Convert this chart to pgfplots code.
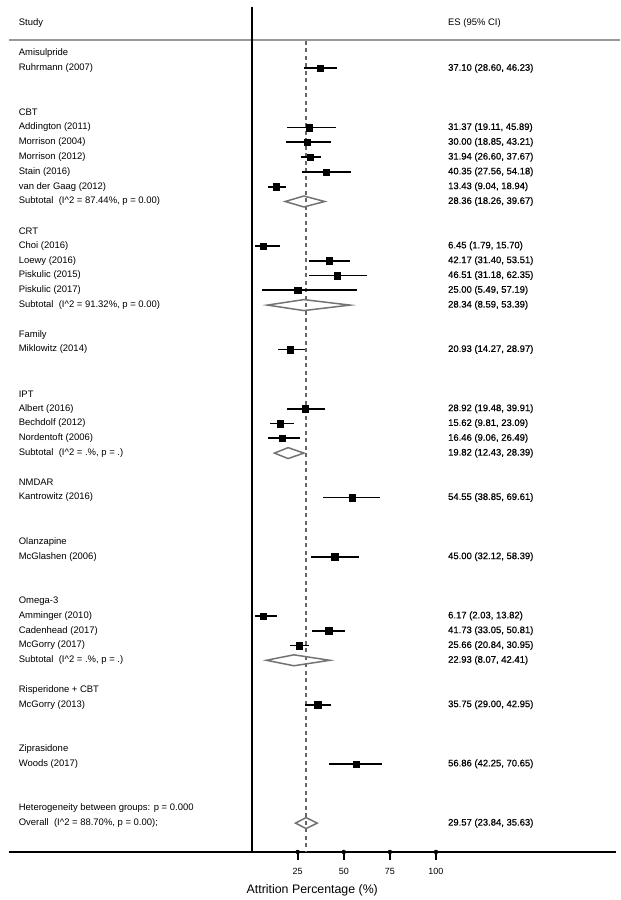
\documentclass[border=0pt]{standalone}
\usepackage{fontspec}
\setmainfont{Liberation Sans}
\newfontfamily\valfont[FakeBold=0.6]{Liberation Sans}
\usepackage{pgfplots}
\usepackage{pgfplotstable}
\pgfplotsset{compat=1.18}

% row = line of the forest plot counted from "Amisulpride" (0)
\pgfplotstableread{
row es lo hi
1 37.10 28.60 46.23
5 31.37 19.11 45.89
6 30.00 18.85 43.21
7 31.94 26.60 37.67
8 40.35 27.56 54.18
9 13.43 9.04 18.94
13 6.45 1.79 15.70
14 42.17 31.40 53.51
15 46.51 31.18 62.35
16 25.00 5.49 57.19
20 20.93 14.27 28.97
24 28.92 19.48 39.91
25 15.62 9.81 23.09
26 16.46 9.06 26.49
30 54.55 38.85 69.61
34 45.00 32.12 58.39
38 6.17 2.03 13.82
39 41.73 33.05 50.81
40 25.66 20.84 30.95
44 35.75 29.00 42.95
48 56.86 42.25 70.65
}\studies

\newcommand{\lab}[3]{%
  \node[lbl] at (axis cs:-126.3,-#1) {#2};
  \node[lbl] at (axis cs:106.5,-#1) {\valfont #3};}

\begin{document}
\begin{tikzpicture}[lbl/.style={anchor=west, inner sep=0pt, font=\fontsize{9.5}{11}\selectfont}]
\begin{axis}[
    width=607.3bp, height=852bp, scale only axis,
    xmin=-131.7, xmax=197.6, ymin=-53.95, ymax=3.615,
    axis y line=none, axis x line*=bottom,
    x axis line style={-, line width=1.8bp},
    xtick={25,50,75,100}, ytick=\empty, major tick length=0pt,
    /pgf/number format/assume math mode=true,
    xticklabel style={font=\fontsize{9}{10}\selectfont, yshift=-13bp},
    xlabel={Attrition Percentage (\%)},
    xlabel style={font=\fontsize{12.4}{14}\selectfont, yshift=-3bp},
    clip=false,
]
\path (axis cs:-136.4,3.615) rectangle (axis cs:199.8,-57.196);
% reference lines
\addplot[black!40, line width=1.6bp] coordinates {(-131.7,0.892) (199.8,0.892)};
\addplot[black, line width=2bp] coordinates {(0,3.14) (0,-53.95)};
\addplot[black!60, line width=1.2bp, dash pattern=on 4bp off 3.5bp] coordinates {(29.57,0.85) (29.57,-53.95)};
% tick marks below the axis line
\addplot[only marks, mark=none, error bars/.cd, y dir=minus, y fixed=0.52, error mark=none,
    error bar style={black, line width=1.8bp}]
  coordinates {(25,-53.95) (50,-53.95) (75,-53.95) (100,-53.95)};
% studies
\addplot[black, only marks, mark=square*, mark size=3.2bp, mark options={line width=0.3bp},
    error bars/.cd, x dir=both, x explicit, error mark=none,
    error bar style={line width=1.8bp, black}]
  table[x=es, y expr=-\thisrow{row},
        x error plus expr=\thisrow{hi}-\thisrow{es},
        x error minus expr=\thisrow{es}-\thisrow{lo}] {\studies};
% pooled estimates
\pgfplotsset{diam/.style={black!55, line width=1.5bp, line join=miter}}
\addplot[diam] coordinates {(28.36,-9.63) (39.67,-10) (28.36,-10.37) (18.26,-10) (28.36,-9.63)};
\addplot[diam] coordinates {(28.34,-16.63) (53.39,-17) (28.34,-17.37) (8.59,-17) (28.34,-16.63)};
\addplot[diam] coordinates {(19.82,-26.63) (28.39,-27) (19.82,-27.37) (12.43,-27) (19.82,-26.63)};
\addplot[diam] coordinates {(22.93,-40.63) (42.41,-41) (22.93,-41.37) (8.07,-41) (22.93,-40.63)};
\addplot[diam] coordinates {(29.57,-51.63) (35.63,-52) (29.57,-52.37) (23.84,-52) (29.57,-51.63)};
% text columns
\node[lbl] at (axis cs:-126.3,2.08) {Study};
\node[lbl] at (axis cs:106.5,2.08) {ES (95\% CI)};
\lab{0}{Amisulpride}{}
\lab{1}{Ruhrmann (2007)}{37.10 (28.60, 46.23)}
\lab{4}{CBT}{}
\lab{5}{Addington (2011)}{31.37 (19.11, 45.89)}
\lab{6}{Morrison (2004)}{30.00 (18.85, 43.21)}
\lab{7}{Morrison (2012)}{31.94 (26.60, 37.67)}
\lab{8}{Stain (2016)}{40.35 (27.56, 54.18)}
\lab{9}{van der Gaag (2012)}{13.43 (9.04, 18.94)}
\lab{10}{Subtotal\ \ (I\textasciicircum2 = 87.44\%, p = 0.00)}{28.36 (18.26, 39.67)}
\lab{12}{CRT}{}
\lab{13}{Choi (2016)}{6.45 (1.79, 15.70)}
\lab{14}{Loewy (2016)}{42.17 (31.40, 53.51)}
\lab{15}{Piskulic (2015)}{46.51 (31.18, 62.35)}
\lab{16}{Piskulic (2017)}{25.00 (5.49, 57.19)}
\lab{17}{Subtotal\ \ (I\textasciicircum2 = 91.32\%, p = 0.00)}{28.34 (8.59, 53.39)}
\lab{19}{Family}{}
\lab{20}{Miklowitz (2014)}{20.93 (14.27, 28.97)}
\lab{23}{IPT}{}
\lab{24}{Albert (2016)}{28.92 (19.48, 39.91)}
\lab{25}{Bechdolf (2012)}{15.62 (9.81, 23.09)}
\lab{26}{Nordentoft (2006)}{16.46 (9.06, 26.49)}
\lab{27}{Subtotal\ \ (I\textasciicircum2 = .\%, p = .)}{19.82 (12.43, 28.39)}
\lab{29}{NMDAR}{}
\lab{30}{Kantrowitz (2016)}{54.55 (38.85, 69.61)}
\lab{33}{Olanzapine}{}
\lab{34}{McGlashen (2006)}{45.00 (32.12, 58.39)}
\lab{37}{Omega-3}{}
\lab{38}{Amminger (2010)}{6.17 (2.03, 13.82)}
\lab{39}{Cadenhead (2017)}{41.73 (33.05, 50.81)}
\lab{40}{McGorry (2017)}{25.66 (20.84, 30.95)}
\lab{41}{Subtotal\ \ (I\textasciicircum2 = .\%, p = .)}{22.93 (8.07, 42.41)}
\lab{43}{Risperidone + CBT}{}
\lab{44}{McGorry (2013)}{35.75 (29.00, 42.95)}
\lab{47}{Ziprasidone}{}
\lab{48}{Woods (2017)}{56.86 (42.25, 70.65)}
\lab{51}{Heterogeneity between groups: p = 0.000}{}
\lab{52}{Overall\ \ (I\textasciicircum2 = 88.70\%, p = 0.00);}{29.57 (23.84, 35.63)}
\end{axis}
\end{tikzpicture}
\end{document}
